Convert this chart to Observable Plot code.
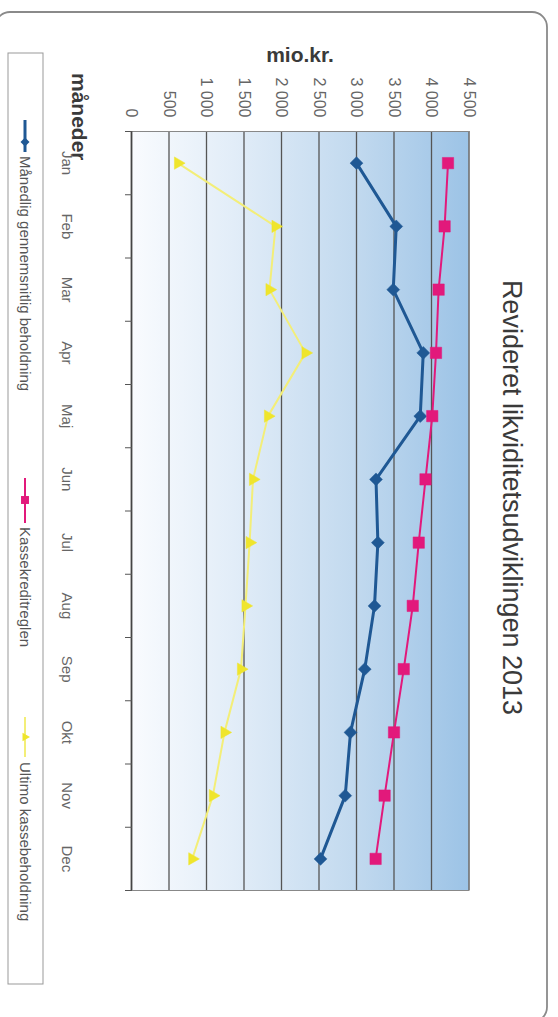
<!DOCTYPE html>
<html>
<head>
<meta charset="utf-8">
<script src="https://cdn.jsdelivr.net/npm/d3@7"></script>
<script src="https://cdn.jsdelivr.net/npm/@observablehq/plot@0.6"></script>
<style>
html, body { margin: 0; padding: 0; background: #fff; width: 558px; height: 1017px; overflow: hidden; }
#rot { position: absolute; left: 0; top: 0; width: 1017px; height: 558px;
       transform-origin: 0 0; transform: translate(558px, 0) rotate(90deg); }
</style>
</head>
<body>
<div id="rot"></div>
<script>
// ---- data ----
const months = ["Jan", "Feb", "Mar", "Apr", "Maj", "Jun", "Jul", "Aug", "Sep", "Okt", "Nov", "Dec"];
const gennemsnit = [3000, 3530, 3490, 3890, 3850, 3260, 3285, 3240, 3110, 2920, 2850, 2520];
const kassekredit = [4220, 4175, 4095, 4060, 4010, 3920, 3830, 3750, 3630, 3500, 3375, 3255];
const ultimo = [620, 1920, 1840, 2320, 1820, 1620, 1575, 1520, 1460, 1240, 1085, 810];
const seriesNames = ["Månedlig gennemsnitlig beholdning", "Kassekreditreglen", "Ultimo kassebeholdning"];
const valueTicks = [0, 500, 1000, 1500, 2000, 2500, 3000, 3500, 4000, 4500];
const titleText = "Revideret likviditetsudviklingen 2013";
const yLabel = "mio.kr.";
const xLabel = "måneder";

// ---- styling ----
const styles = [
  {stroke: "#1f5894", width: 3, symbol: "diamond2", r: 5.8, fill: "#1f5894"},
  {stroke: "#e2197b", width: 2, symbol: "square", r: 6.4, fill: "#e2197b"},
  {stroke: "#f3ee78", width: 2, symbol: "triangle", r: 4.6, fill: "#efe52c"}
];
const seriesValues = [gennemsnit, kassekredit, ultimo];
const tables = seriesValues.map(vals => vals.map((v, i) => ({pos: i + 0.5, month: months[i], value: v})));

const fmt = d => d3.format(",")(d).replace(/,/g, " ");
const font = "'Liberation Sans', Arial, sans-serif";

const seriesMarks = [];
tables.forEach((t, k) => {
  const s = styles[k];
  seriesMarks.push(Plot.line(t, {x: "pos", y: "value", stroke: s.stroke, strokeWidth: s.width}));
  seriesMarks.push(Plot.dot(t, {x: "pos", y: "value", symbol: s.symbol, r: s.r, fill: s.fill, stroke: s.fill, strokeWidth: 0.5}));
});

const chart = Plot.plot({
  width: 1017,
  height: 558,
  marginLeft: 131,
  marginRight: 127,
  marginTop: 88.5,
  marginBottom: 132,
  style: {fontFamily: font, background: "transparent", overflow: "visible"},
  x: {domain: [0, 12], axis: null, label: null},
  y: {domain: [0, 4500], axis: null, label: null},
  marks: [
    Plot.frame({fill: "url(#bgGrad)"}),
    Plot.gridY(valueTicks, {stroke: "#555", strokeOpacity: 1, strokeWidth: 1.3}),
    Plot.frame({stroke: "#888", strokeWidth: 1}),
    Plot.ruleY([0], {stroke: "#444", strokeWidth: 1.6}),
    Plot.axisY(valueTicks, {tickSize: 0, tickPadding: 14, tickFormat: fmt, fontSize: 16, fill: "#666", label: null}),
    Plot.axisX(months.map((m, i) => i + 0.5), {tickSize: 0, tickPadding: 59, tickFormat: d => months[Math.floor(d)], fontSize: 15, fill: "#666", label: null}),
    Plot.axisX(d3.range(13), {tickSize: 7, tickFormat: () => "", fill: "none", stroke: "#555", label: null}),
    ...seriesMarks
  ]
});

const svg = d3.select(chart);
const defs = svg.insert("defs", ":first-child");
const grad = defs.append("linearGradient").attr("id", "bgGrad")
  .attr("x1", 0).attr("y1", 0).attr("x2", 0).attr("y2", 1);
grad.append("stop").attr("offset", "0%").attr("stop-color", "#9cc3e6");
grad.append("stop").attr("offset", "35%").attr("stop-color", "#c3daef");
grad.append("stop").attr("offset", "70%").attr("stop-color", "#e2edf8");
grad.append("stop").attr("offset", "100%").attr("stop-color", "#f9fbfe");

// outer frame
svg.insert("rect", ":first-child")
  .attr("x", 12).attr("y", 11).attr("width", 1010).attr("height", 552).attr("rx", 15)
  .attr("fill", "#fff").attr("stroke", "#8a8a8a").attr("stroke-width", 1.8);

// title
svg.append("text").attr("x", 497.5).attr("y", 55).attr("text-anchor", "middle")
  .attr("font-family", font).attr("font-size", 27).attr("fill", "#3a3a3a").text(titleText);

// y label (rotated)
svg.append("text").attr("transform", "translate(62,258) rotate(-90)").attr("text-anchor", "middle")
  .attr("font-family", font).attr("font-size", 21).attr("font-weight", "bold").attr("fill", "#3a3a3a").text(yLabel);

// x label
svg.append("text").attr("x", 73).attr("y", 486).attr("text-anchor", "start")
  .attr("font-family", font).attr("font-size", 21).attr("font-weight", "bold").attr("fill", "#3a3a3a").text(xLabel);

// legend
svg.append("rect").attr("x", 53).attr("y", 515).attr("width", 931).attr("height", 35)
  .attr("fill", "#fff").attr("stroke", "#999").attr("stroke-width", 1);
const legendItems = [
  {x1: 120, x2: 152, mx: 142, tx: 156},
  {x1: 478, x2: 523, mx: 500, tx: 527},
  {x1: 717, x2: 757, mx: 737, tx: 762}
];
const symMap = {diamond2: d3.symbolDiamond2, square: d3.symbolSquare, triangle: d3.symbolTriangle};
legendItems.forEach((it, k) => {
  const s = styles[k];
  const ly = 533;
  svg.append("line").attr("x1", it.x1).attr("x2", it.x2).attr("y1", ly).attr("y2", ly)
    .attr("stroke", s.stroke).attr("stroke-width", s.width);
  const rr = s.r * 0.7;
  svg.append("path").attr("transform", `translate(${it.mx},${ly})`)
    .attr("d", d3.symbol(symMap[s.symbol], Math.PI * rr * rr)())
    .attr("fill", s.fill);
  svg.append("text").attr("x", it.tx).attr("y", 538).attr("text-anchor", "start")
    .attr("font-family", font).attr("font-size", 15).attr("fill", "#555").text(seriesNames[k]);
});

document.getElementById("rot").appendChild(chart);
</script>
</body>
</html>
